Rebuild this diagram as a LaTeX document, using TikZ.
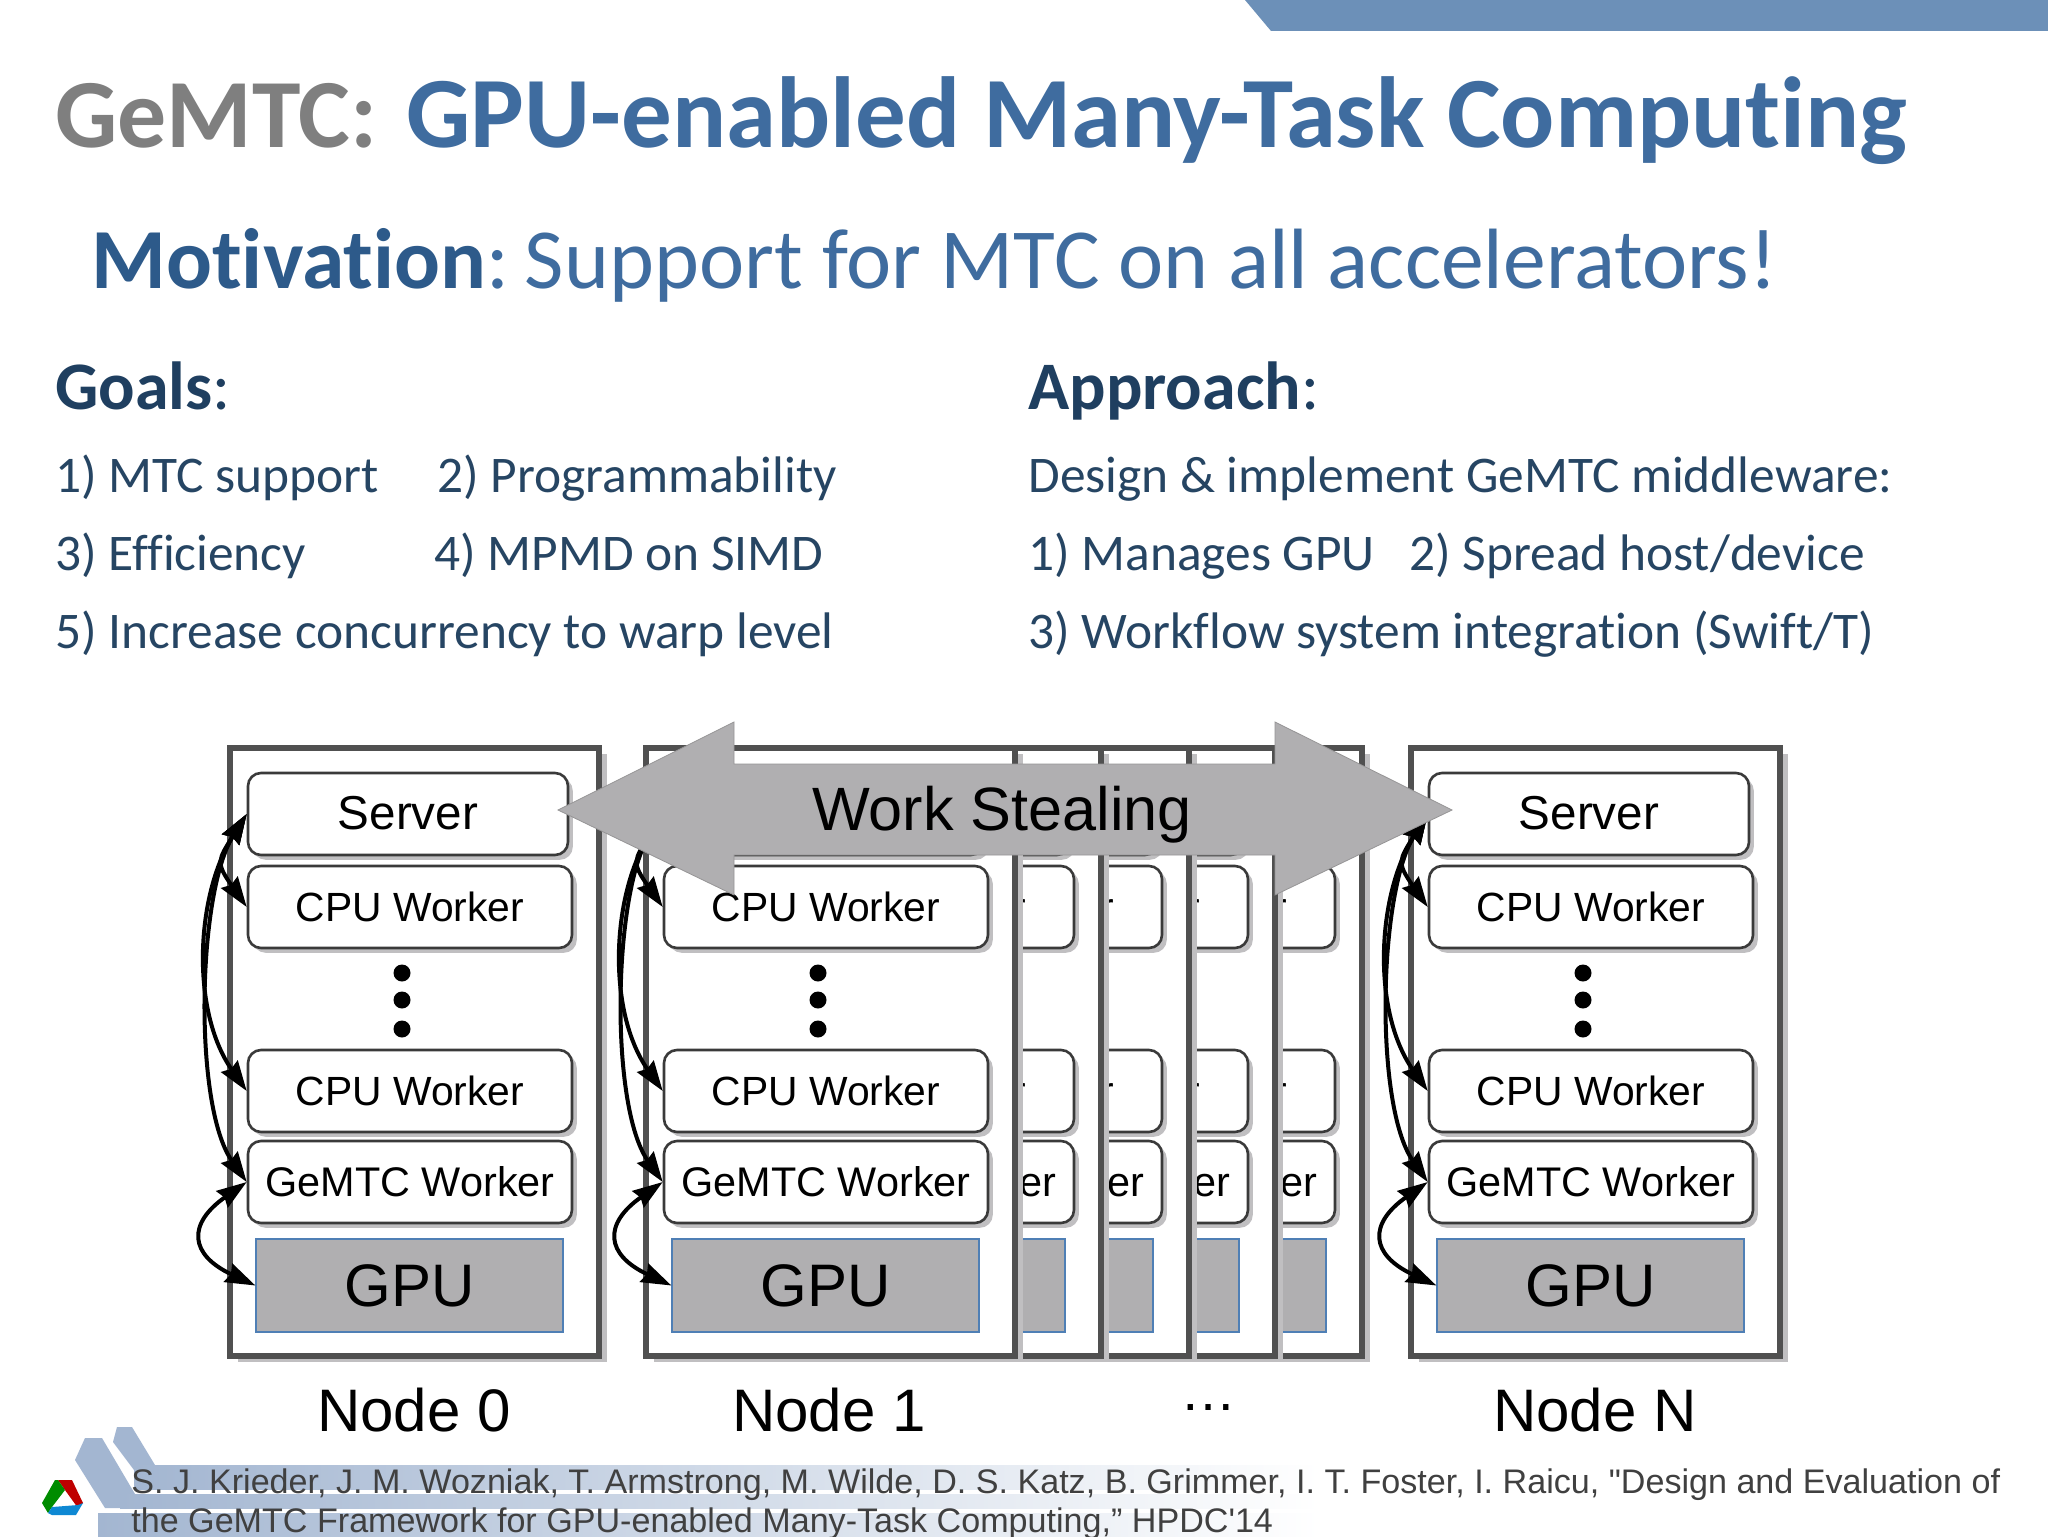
\documentclass[tikz,border=0pt]{standalone}
\usepackage{fontspec}
\usepackage{xcolor}
\setmainfont[Ligatures=NoCommon]{Carlito}
\newfontfamily\diagfont{Liberation Sans}
\usetikzlibrary{arrows.meta}
\usetikzlibrary{shadows}
\definecolor{slateBlue}{HTML}{3F6C9F}
\definecolor{deepBlue}{HTML}{2D5A8A}
\definecolor{inkBlue}{HTML}{1F3F60}
\definecolor{bodyBlue}{HTML}{264563}
\definecolor{titleGray}{HTML}{7F7F7F}
\definecolor{bandBlue}{HTML}{6C90B8}
\definecolor{logoBlue}{HTML}{A3B6D1}
\definecolor{edgeGray}{HTML}{505050}
\definecolor{lineGray}{HTML}{3A3A3A}
\definecolor{softGray}{HTML}{B0AFB1}
\definecolor{shadeGray}{HTML}{C0BFC1}
\definecolor{gpuEdge}{HTML}{4F7FB5}
\definecolor{noteGray}{HTML}{404040}
\tikzset{
  % text options
  slide/.style={anchor=base west,inner sep=0},
  goalhead/.style={slide,text=inkBlue,font=\fontsize{34}{40}\selectfont},
  goalitem/.style={slide,text=bodyBlue,font=\fontsize{25.7}{30}\selectfont},
  citation/.style={slide,text=noteGray,font=\diagfont\fontsize{17.05}{21}\selectfont},
  nodename/.style={anchor=base,inner sep=0,font=\diagfont\fontsize{30}{36}\selectfont},
  % diagram options
  hostbox/.style={rectangle,draw=edgeGray,line width=2.8pt,fill=white,minimum width=184.5pt,minimum height=304pt,
    drop shadow={shadow xshift=4pt,shadow yshift=-3pt,fill=shadeGray,opacity=1}},
  workerbox/.style={rectangle,rounded corners=6.5pt,draw=lineGray,line width=1.3pt,fill=white,inner sep=0,
    minimum width=162pt,minimum height=41pt,font=\diagfont\fontsize{20.4}{24}\selectfont,
    text height=14.8pt,text depth=0pt,
    drop shadow={shadow xshift=2.4pt,shadow yshift=-2.4pt,fill=shadeGray,opacity=1}},
  serverbox/.style={workerbox,minimum width=160pt,text height=15pt,font=\diagfont\fontsize{23.8}{28}\selectfont},
  gemtcbox/.style={workerbox,font=\diagfont\fontsize{20.7}{24}\selectfont},
  gpubox/.style={rectangle,draw=gpuEdge,line width=.6pt,fill=softGray,minimum width=153.5pt,minimum height=46.5pt,
    inner sep=0,font=\diagfont\fontsize{30}{36}\selectfont},
  dotmark/.style={circle,fill=black,inner sep=0,minimum size=8.5pt},
  % tails of the labels that stick out beside the host in front
  cputail/.style={text width=114.5pt,align=right},
  gemtctail/.style={text width=144pt,align=right},
  % path options
  link/.style={{Stealth[length=15pt,width=10pt,inset=1.5pt]}-{Stealth[length=15pt,width=10pt,inset=1.5pt]},line width=2pt,black},
  stealarrow/.style={fill=softGray,draw=softGray!85!black,line width=.4pt},
}
\newcommand{\hostnode}[3]{
  \begin{scope}[shift={(#2,0)}]
    \node[hostbox] (host#1) at (185.5,-1052) {};
    \node[serverbox] (server#1) at (179,-814) {#3};
    \node[workerbox] (cpuA#1) at (181,-907) {CPU Worker};
    \node[dotmark] (dotA#1) at (173,-973) {};
    \node[dotmark] (dotB#1) at (173,-1000) {};
    \node[dotmark] (dotC#1) at (173,-1029) {};
    \node[workerbox] (cpuB#1) at (181,-1091) {CPU Worker};
    \node[gemtcbox] (gemtc#1) at (181,-1182) {GeMTC Worker};
    \node[gpubox] (gpu#1) at (180.5,-1285.5) {GPU};
  \end{scope}
}
\newcommand{\backhost}[2]{
  \begin{scope}[shift={(#2,0)}]
    \node[hostbox] (host#1) at (185.5,-1052) {};
    \node[serverbox] (server#1) at (179,-814) {};
    \node[workerbox,cputail] (cpuA#1) at (181,-907) {r};
    \node[workerbox,cputail] (cpuB#1) at (181,-1091) {r};
    \node[gemtcbox,gemtctail] (gemtc#1) at (181,-1182) {er};
    \node[gpubox] (gpu#1) at (180.5,-1285.5) {};
  \end{scope}
}
\begin{document}
\begin{tikzpicture}[x=.5pt,y=.5pt]
  \useasboundingbox (0,0) rectangle (2048,-1536);
  \fill[white] (0,0) rectangle (2048,-1536);
  % slide furniture
  \fill[bandBlue] (1245,0) -- (1271,-31) -- (2048,-31) -- (2048,0) -- cycle;
  \fill[logoBlue] (85,-1438) -- (102,-1438) -- (135,-1494) -- (135,-1508) -- (105,-1508) -- (75,-1460) -- cycle;
  \fill[logoBlue] (117,-1427) -- (132,-1427) -- (155,-1465) -- (155,-1470) -- (134,-1470) -- (113,-1442) -- cycle;
  \shade[left color=logoBlue,middle color=logoBlue!70,right color=white] (134,-1465) rectangle (1320,-1489);
  \shade[left color=logoBlue,middle color=logoBlue!70,right color=white] (120,-1494) rectangle (1320,-1508);
  \shade[left color=logoBlue,middle color=logoBlue!70,right color=white] (98,-1513) rectangle (1320,-1536);
  \fill[red!75!black] (58,-1480) -- (72,-1480) -- (83,-1503) -- (78,-1508) -- (65,-1490) -- cycle;
  \fill[green!55!black] (55,-1480) -- (58,-1480) -- (65,-1490) -- (52,-1507) -- (48,-1513) -- (42,-1503) -- cycle;
  \fill[cyan!70!blue] (48,-1513) -- (52,-1507) -- (78,-1505) -- (83,-1503) -- (76,-1515) -- (52,-1515) -- cycle;
  % headings
  \node[slide,font=\bfseries\fontsize{50.5}{60}\selectfont] (title) at (55,-148) {{\fontsize{48.9}{60}\selectfont\textcolor{titleGray}{GeMTC:}}\hspace{3pt} \textcolor{slateBlue}{GPU-enabled Many-Task Computing}};
  \node[slide,font=\fontsize{42.8}{50}\selectfont,text=slateBlue] (motivation) at (91,-288) {\textcolor{deepBlue}{\bfseries Motivation}:\hspace{-5pt} Support for MTC on all accelerators!};
  \node[goalhead] (goals) at (55,-409) {\textbf{Goals}:};
  \node[goalhead] (approach) at (1028,-409) {\textbf{Approach}:};
  \node[goalitem] (goalA) at (55,-492) {1) MTC support};
  \node[goalitem] (goalB) at (437,-492) {2) Programmability};
  \node[goalitem] (goalC) at (55,-570) {3) Efficiency};
  \node[goalitem] (goalD) at (434,-570) {4) MPMD on SIMD};
  \node[goalitem] (goalE) at (55,-648) {5) Increase concurrency to warp level};
  \node[goalitem] (planA) at (1028,-492) {Design \& implement GeMTC middleware:};
  \node[goalitem] (planB) at (1028,-570) {1) Manages GPU};
  \node[goalitem] (planC) at (1409,-570) {2) Spread host/device};
  \node[goalitem] (planD) at (1028,-648) {3) Workflow system integration (Swift/T)};
  % compute nodes, back to front
  \foreach \id/\xpos in {5/992,4/905,3/819,2/731} {
    \backhost{\id}{\xpos}
  }
  \hostnode{1}{645}{}
  \hostnode{0}{229}{Server}
  \hostnode{N}{1410}{Server}
  \foreach \id in {0,1,N} {
    \draw[link] (server\id.west) to[out=238,in=125,looseness=1.5] (cpuA\id.west);
    \draw[link] (server\id.west) to[out=238,in=125,looseness=.9] (cpuB\id.west);
    \draw[link] (server\id.west) to[out=238,in=125,looseness=.65] (gemtc\id.west);
    \draw[link] (gemtc\id.west) to[out=215,in=155,looseness=1.8] (gpu\id.west);
  }
  % work stealing arrow
  \filldraw[stealarrow] (558,-810) -- (734,-722) -- (734,-764) -- (1275,-764) -- (1275,-722) -- (1452,-810)
    -- (1275,-895) -- (1275,-855) -- (734,-855) -- (734,-895) -- cycle;
  \node[inner sep=0,font=\diagfont\fontsize{30.6}{36}\selectfont] (stealing) at (1002,-815) {Work Stealing};
  % node captions
  \node[nodename] (captionA) at (414,-1431) {Node 0};
  \node[nodename] (captionB) at (829,-1431) {Node 1};
  \node[nodename,font=\diagfont\fontsize{28}{34}\selectfont] (captionC) at (1208,-1410) {…};
  \node[nodename] (captionD) at (1595,-1431) {Node N};
  % reference
  \node[citation] (citeA) at (131,-1493) {S. J. Krieder, J. M. Wozniak, T. Armstrong, M. Wilde, D. S. Katz, B. Grimmer, I. T. Foster, I. Raicu, "Design and Evaluation of};
  \node[citation] (citeB) at (131,-1532) {the GeMTC Framework for GPU-enabled Many-Task Computing,” HPDC'14};
\end{tikzpicture}
\end{document}
